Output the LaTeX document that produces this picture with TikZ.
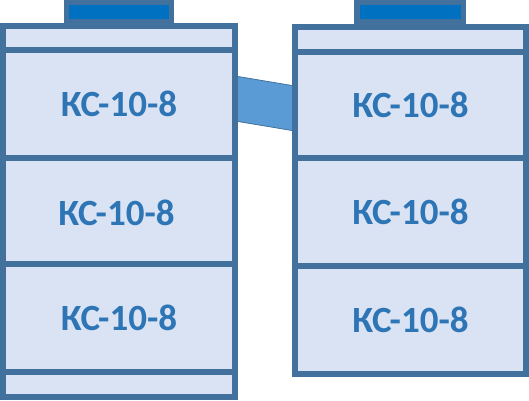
\documentclass[tikz,border=0pt]{standalone}
\usepackage{fontspec}
\setmainfont{Carlito}
\definecolor{edge}{HTML}{41719C}
\definecolor{ringfill}{HTML}{DAE3F3}
\definecolor{txt}{HTML}{2E75B6}
\definecolor{hatchin}{HTML}{0070C0}
\definecolor{pipefill}{HTML}{5B9BD5}
\tikzset{
  ring/.style={draw=edge, fill=ringfill, line width=6pt, inner sep=0pt, outer sep=0pt,
    font=\bfseries\fontsize{37}{40}\selectfont, text=txt},
  ringlabel/.style={inner sep=0pt, font=\bfseries\fontsize{37}{40}\selectfont, text=txt},
}
\begin{document}
\begin{tikzpicture}[x=1pt,y=-1pt]
\useasboundingbox (0,0) rectangle (529,400);
% pipe connecting the columns (behind)
\coordinate (p1) at (235,76);
\coordinate (p2) at (295,86);
\coordinate (p3) at (295,131);
\coordinate (p4) at (235,121);
\draw[edge, fill=pipefill, line width=0.8pt] (p1) -- (p2) -- (p3) -- (p4) -- cycle;
% hatches
\fill[edge] (64,0) rectangle (174,27);
\fill[hatchin] (69,5) rectangle (169,19);
\fill[edge] (354,0) rectangle (466,28);
\fill[hatchin] (360,5) rectangle (461,19);
% left column
\node[ring, minimum width=232pt, minimum height=24pt] (lcap) at (119,38) {};
\node[ring, minimum width=232pt, minimum height=108pt] (l1) at (119,104) {КС-10-8};
\node[ring, minimum width=232pt, minimum height=106pt] (l2) at (119,211) {};
\node[ringlabel] (l2t) at (116.5,213) {КС-10-8};
\node[ring, minimum width=232pt, minimum height=107.5pt] (l3) at (119,317.75) {КС-10-8};
\node[ring, minimum width=232pt, minimum height=25.5pt] (lbot) at (119,384.25) {};
% right column
\node[ring, minimum width=231pt, minimum height=25pt] (rcap) at (410.5,39.5) {};
\node[ring, minimum width=231pt, minimum height=106pt] (r1) at (410.5,105) {КС-10-8};
\node[ring, minimum width=231pt, minimum height=108pt] (r2) at (410.5,212) {КС-10-8};
\node[ring, minimum width=231pt, minimum height=107.5pt] (r3) at (410.5,319.75) {КС-10-8};
\end{tikzpicture}
\end{document}
